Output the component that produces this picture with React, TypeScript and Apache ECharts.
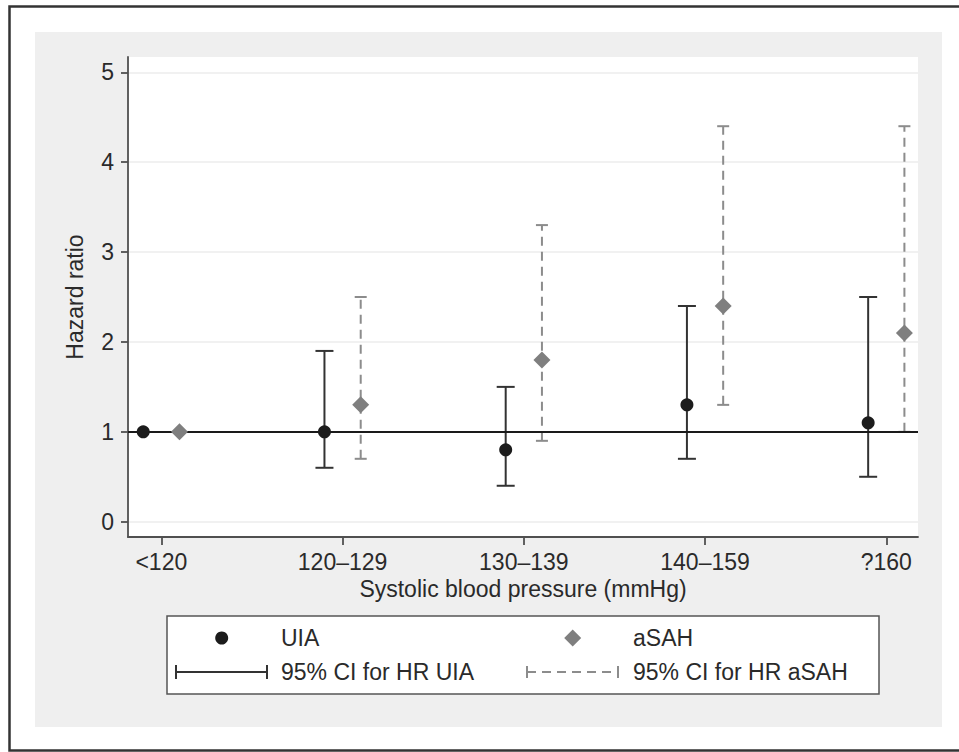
import React, { useEffect, useRef } from "react";
import * as echarts from "echarts";

const categories = ["<120", "120–129", "130–139", "140–159", "?160"];
const uiaHR = [1.0, 1.0, 0.8, 1.3, 1.1];
const uiaLow = [null, 0.6, 0.4, 0.7, 0.5];
const uiaHigh = [null, 1.9, 1.5, 2.4, 2.5];
const sahHR = [1.0, 1.3, 1.8, 2.4, 2.1];
const sahLow = [null, 0.7, 0.9, 1.3, 1.0];
const sahHigh = [null, 2.5, 3.3, 4.4, 4.4];
const yTicks = [0, 1, 2, 3, 4, 5];
const xTicks = [0, 1, 2, 3, 4];
const refLine = 1;

const FONT = "Liberation Sans";
const FS = 23;
const TXT = "#2a2a2a";
const AX = "#505050";

export default function App() {
  const ref = useRef<HTMLDivElement>(null);
  useEffect(() => {
    if (!ref.current) return;
    const chart = echarts.init(ref.current, null, { renderer: "svg" });
    const off = 0.1;
    const uiaPts = categories.map((_, i) => [i - off, uiaHR[i]]);
    const sahPts = categories.map((_, i) => [i + off, sahHR[i]]);
    const uiaCI = categories
      .map((_, i) => [i - off, uiaLow[i], uiaHigh[i]])
      .filter((d) => d[1] != null);
    const sahCI = categories
      .map((_, i) => [i + off, sahLow[i], sahHigh[i]])
      .filter((d) => d[1] != null);

    const makeErr = (stroke: string, dash: any, half: number) => (params: any, api: any) => {
      const x = api.value(0);
      const p1 = api.coord([x, api.value(1)]);
      const p2 = api.coord([x, api.value(2)]);
      return {
        type: "group",
        children: [
          { type: "line", shape: { x1: p1[0], y1: p1[1], x2: p2[0], y2: p2[1] }, style: { stroke, lineWidth: 2, lineDash: dash } },
          { type: "line", shape: { x1: p1[0] - half, y1: p1[1], x2: p1[0] + half, y2: p1[1] }, style: { stroke, lineWidth: 2 } },
          { type: "line", shape: { x1: p2[0] - half, y1: p2[1], x2: p2[0] + half, y2: p2[1] }, style: { stroke, lineWidth: 2 } },
        ],
      };
    };

    const legendTextStyle = { fill: TXT, font: `${FS}px "${FONT}"`, textVerticalAlign: "middle" as const };

    chart.setOption({
      animation: false,
      backgroundColor: "#fff",
      textStyle: { fontFamily: FONT },
      grid: {
        left: 128,
        right: 41,
        top: 57,
        bottom: 215,
        show: true,
        backgroundColor: "#fff",
        borderWidth: 0,
      },
      xAxis: {
        type: "value",
        min: -0.184,
        max: 4.175,
        axisLine: { onZero: false, lineStyle: { color: AX, width: 1.8 } },
        axisTick: { show: true, length: 8, customValues: xTicks, lineStyle: { color: AX, width: 1.8 } },
        axisLabel: {
          customValues: xTicks,
          formatter: (v: number) => categories[Math.round(v)] ?? "",
          fontSize: FS,
          fontFamily: FONT,
          color: TXT,
          margin: 13,
        },
        splitLine: { show: false },
        name: "Systolic blood pressure (mmHg)",
        nameLocation: "middle",
        nameGap: 39,
        nameTextStyle: { fontSize: FS, fontFamily: FONT, color: TXT },
      },
      yAxis: {
        type: "value",
        min: -0.17,
        max: 5.17,
        axisLine: { show: true, onZero: false, lineStyle: { color: AX, width: 1.8 } },
        axisTick: { show: true, length: 7, customValues: yTicks, lineStyle: { color: AX, width: 1.8 } },
        axisLabel: { customValues: yTicks, fontSize: FS, fontFamily: FONT, color: TXT, margin: 14 },
        splitLine: { show: true, lineStyle: { color: "#ececec", width: 1.5 } },
        name: "Hazard ratio",
        nameLocation: "middle",
        nameGap: 42,
        nameTextStyle: { fontSize: FS, fontFamily: FONT, color: TXT },
      },
      series: [
        {
          type: "line",
          data: [],
          markLine: {
            silent: true,
            symbol: "none",
            label: { show: false },
            lineStyle: { color: "#1a1a1a", width: 2, type: "solid" },
            data: [{ yAxis: refLine }],
          },
          z: 2,
        },
        {
          name: "95% CI for HR UIA",
          type: "custom",
          renderItem: makeErr("#333", null, 9),
          data: uiaCI,
          z: 3,
        },
        {
          name: "95% CI for HR aSAH",
          type: "custom",
          renderItem: makeErr("#8c8c8c", [9, 6], 6),
          data: sahCI,
          z: 3,
        },
        {
          name: "UIA",
          type: "scatter",
          symbol: "circle",
          symbolSize: 13,
          itemStyle: { color: "#1c1c1c", opacity: 1 },
          data: uiaPts,
          z: 5,
        },
        {
          name: "aSAH",
          type: "scatter",
          symbol: "diamond",
          symbolSize: 17,
          itemStyle: { color: "#7f7f7f", opacity: 1 },
          data: sahPts,
          z: 5,
        },
      ],
      graphic: [
        { type: "rect", z: -10, shape: { x: 35, y: 32, width: 907, height: 695 }, style: { fill: "#efefef" } },
        { type: "rect", z: -10, shape: { x: 9.5, y: 6.5, width: 1000, height: 744 }, style: { fill: "none", stroke: "#333", lineWidth: 2.5 } },
        { type: "rect", z: 10, shape: { x: 167, y: 616, width: 712, height: 78 }, style: { fill: "#fff", stroke: "#555", lineWidth: 1.5 } },
        { type: "circle", z: 11, shape: { cx: 221.7, cy: 638, r: 6.5 }, style: { fill: "#1c1c1c" } },
        { type: "text", z: 11, x: 281, y: 638, style: { ...legendTextStyle, text: "UIA" } },
        { type: "line", z: 11, shape: { x1: 176, y1: 672, x2: 267, y2: 672 }, style: { stroke: "#333", lineWidth: 2 } },
        { type: "line", z: 11, shape: { x1: 176, y1: 665, x2: 176, y2: 679 }, style: { stroke: "#333", lineWidth: 2 } },
        { type: "line", z: 11, shape: { x1: 267, y1: 665, x2: 267, y2: 679 }, style: { stroke: "#333", lineWidth: 2 } },
        { type: "text", z: 11, x: 281, y: 672, style: { ...legendTextStyle, text: "95% CI for HR UIA" } },
        { type: "polygon", z: 11, shape: { points: [[572.7, 629.5], [581.2, 638], [572.7, 646.5], [564.2, 638]] }, style: { fill: "#7f7f7f" } },
        { type: "text", z: 11, x: 633, y: 638, style: { ...legendTextStyle, text: "aSAH" } },
        { type: "line", z: 11, shape: { x1: 527, y1: 672, x2: 618, y2: 672 }, style: { stroke: "#8c8c8c", lineWidth: 2, lineDash: [9, 6] } },
        { type: "line", z: 11, shape: { x1: 527, y1: 666, x2: 527, y2: 678 }, style: { stroke: "#8c8c8c", lineWidth: 2 } },
        { type: "line", z: 11, shape: { x1: 618, y1: 666, x2: 618, y2: 678 }, style: { stroke: "#8c8c8c", lineWidth: 2 } },
        { type: "text", z: 11, x: 633, y: 672, style: { ...legendTextStyle, text: "95% CI for HR aSAH" } },
      ],
    });
    return () => chart.dispose();
  }, []);
  return (
    <div
      ref={ref}
      style={{ position: "fixed", left: 0, top: 0, width: 959, height: 752 }}
    />
  );
}
